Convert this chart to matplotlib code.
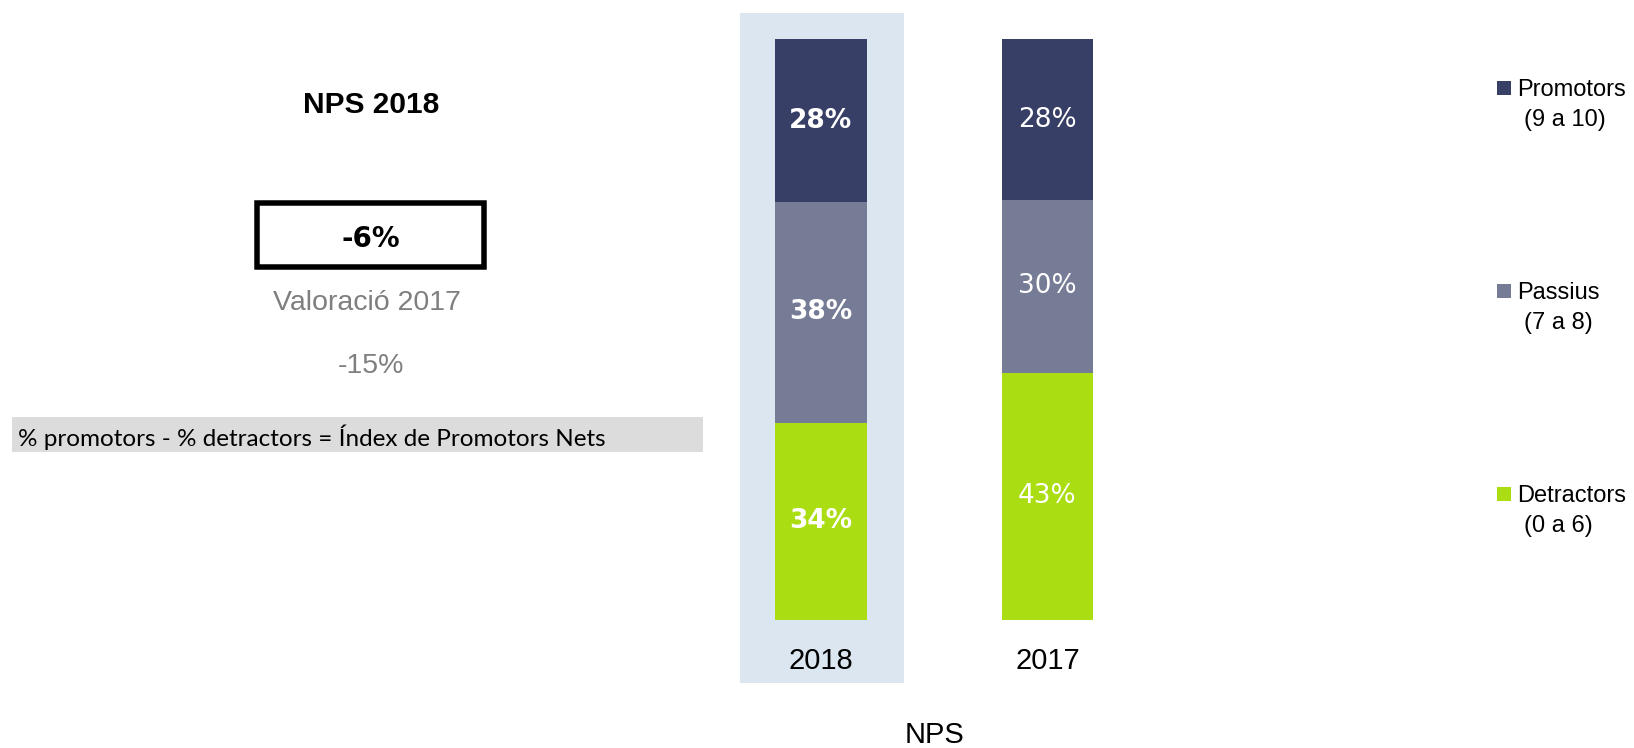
import matplotlib.pyplot as plt
from matplotlib.patches import Rectangle
import numpy as np

# Data
YEARS = ["2018", "2017"]
SEGMENTS = ["Promotors", "Passius", "Detractors"]
SEGMENT_RANGES = ["(9 a 10)", "(7 a 8)", "(0 a 6)"]
PROMOTORS = [28, 28]
PASSIUS = [38, 30]
DETRACTORS = [34, 43]

NPS_TITLE = "NPS 2018"
NPS_CURRENT = "-6%"
PREVIOUS_LABEL = "Valoració 2017"
NPS_PREVIOUS = "-15%"
FORMULA = "% promotors - % detractors = Índex de Promotors Nets"
AXIS_TITLE = "NPS"

COLORS = {
    "Promotors": "#383f66",
    "Passius": "#777c96",
    "Detractors": "#abdd13",
}

W, H = 1634, 748


def fx(px):
    return px / W


def fy(py):
    return 1 - py / H


fig = plt.figure(figsize=(W / 100, H / 100), dpi=100)

# ---- stacked 100% bars ----
ax = fig.add_axes([fx(707.5), fy(683), (1160.8 - 707.5) / W, (683 - 12.5) / H])
ax.set_xlim(-0.5, 1.5)
ax.set_ylim(-10.84, 104.6)
ax.axis("off")

ax.axvspan(-0.356, 0.367, color="#dce6f1", zorder=0, lw=0)

values = {"Promotors": PROMOTORS, "Passius": PASSIUS, "Detractors": DETRACTORS}
x = np.arange(len(YEARS))
totals = np.array(PROMOTORS) + np.array(PASSIUS) + np.array(DETRACTORS)
bottom = np.zeros(len(YEARS))
for name in ["Detractors", "Passius", "Promotors"]:
    share = np.array(values[name]) / totals * 100
    bars = ax.bar(x, share, bottom=bottom, width=0.404, color=COLORS[name], zorder=2)
    texts = ax.bar_label(bars, labels=[f"{v}%" for v in values[name]], label_type="center",
                         color="white", fontsize=19, family="DejaVu Sans")
    texts[0].set_fontweight("bold")
    bottom += share

for i, year in enumerate(YEARS):
    ax.text(i, (620 - 669.3) / 5.81, year, ha="center", va="baseline",
            fontsize=21, family="Liberation Sans")
ax.text(0.5016, (620 - 743) / 5.81, AXIS_TITLE, ha="center", va="baseline",
        fontsize=21, family="Liberation Sans")

# ---- legend ----
legend_y = [88, 291, 494]
for name, rng, yc in zip(SEGMENTS, SEGMENT_RANGES, legend_y):
    fig.add_artist(Rectangle((fx(1497), fy(yc + 7)), 14 / W, 14 / H, facecolor=COLORS[name],
                             edgecolor="none", transform=fig.transFigure))
    fig.text(fx(1517), fy(yc + 8), name, ha="left", va="baseline", fontsize=17, family="Liberation Sans")
    fig.text(fx(1524), fy(yc + 38), rng, ha="left", va="baseline", fontsize=17, family="Liberation Sans")

# ---- left panel ----
fig.text(fx(371), fy(113.3), NPS_TITLE, ha="center", va="baseline", fontsize=21.5,
         fontweight="bold", family="Liberation Sans")
fig.add_artist(Rectangle((fx(256.75), fy(267.25)), (484.25 - 256.75) / W, (267.25 - 202.75) / H,
                         fill=False, edgecolor="black", lw=3.96, joinstyle="miter",
                         transform=fig.transFigure))
fig.text(fx(371), fy(246.7), NPS_CURRENT, ha="center", va="baseline", fontsize=20,
         fontweight="bold", family="DejaVu Sans")
fig.text(fx(367), fy(310), PREVIOUS_LABEL, ha="center", va="baseline", fontsize=20.5,
         color="#7f7f7f", family="Liberation Sans")
fig.text(fx(371), fy(373.3), NPS_PREVIOUS, ha="center", va="baseline", fontsize=20.5,
         color="#7f7f7f", family="Liberation Sans")

fig.add_artist(Rectangle((fx(12), fy(452)), 691 / W, 35 / H, facecolor="#dcdcdc",
                         edgecolor="none", transform=fig.transFigure))
fig.text(fx(18), fy(446), FORMULA, ha="left", va="baseline", fontsize=17.5, family="Lato")

fig.savefig("out.png", dpi=100)
